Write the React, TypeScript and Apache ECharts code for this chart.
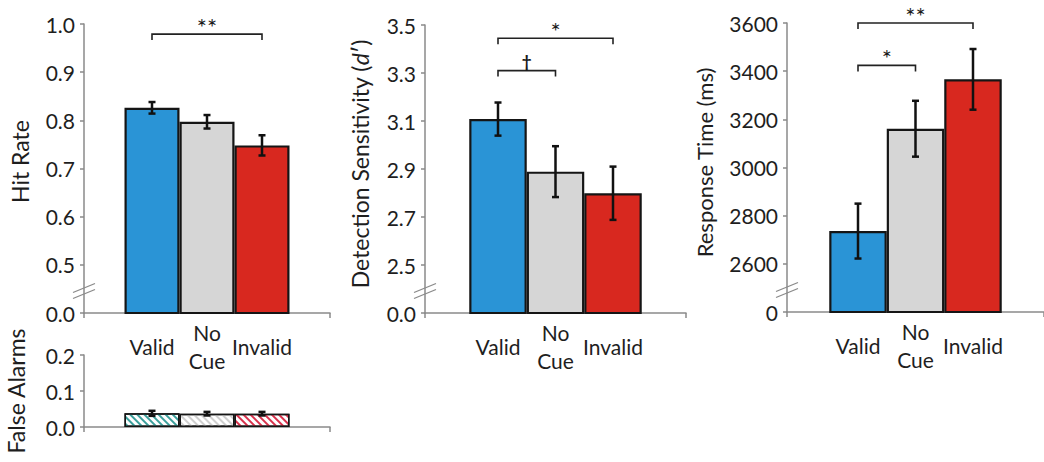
import React, { useEffect, useRef } from "react";
import * as echarts from "echarts";

// ---------- data ----------
const conditions = ["Valid", "No\nCue", "Invalid"];

const hitRate = [0.826, 0.797, 0.748];
const hitRateErr = [0.012, 0.014, 0.021];

const falseAlarms = [0.038, 0.037, 0.037];
const falseAlarmsErr = [0.007, 0.005, 0.005];

const dPrime = [3.108, 2.889, 2.799];
const dPrimeErr = [0.069, 0.106, 0.111];

const responseTime = [2736, 3161, 3366];
const responseTimeErr = [114, 116, 126];

// tick labels (lowest tick is the broken-axis zero)
const hitTicks = ["0.0", "0.5", "0.6", "0.7", "0.8", "0.9", "1.0"];
const faTicks = ["0.0", "0.1", "0.2"];
const dTicks = ["0.0", "2.5", "2.7", "2.9", "3.1", "3.3", "3.5"];
const rtTicks = ["0", "2600", "2800", "3000", "3200", "3400", "3600"];

// significance brackets: [fromIndex, toIndex, yValue]
const hitSig = [[0, 2, 0.979]];
const hitSigText = ["**"];
const dSig = [
  [0, 2, 3.445],
  [0, 1, 3.31],
];
const dSigText = ["*", "†"];
const rtSig = [
  [0, 2, 3600],
  [0, 1, 3424],
];
const rtSigText = ["**", "*"];

// ---------- styles ----------
const FONT = 'Lato, "Open Sans", "DejaVu Sans", sans-serif';
const AXIS_COLOR = "#8a8a8a";
const TEXT_COLOR = "#1e1e1e";
const barColors = ["#2a94d6", "#d6d6d6", "#d8281f"];
const hatchColors = ["#3a9f9b", "#cfcfcf", "#d9304b"];

type Panel = {
  left: number;
  width: number;
  top: number;
  height: number;
  min: number;
  max: number;
  interval: number;
  ticks: string[];
  values: number[];
  errs: number[];
  sig: number[][];
  sigText: string[];
  name: string;
  nameGap: number;
  nameSize: number;
  nameShift: number;
  barW: number;
  labels: boolean;
  hatch: boolean;
  breakMark: boolean;
};

const panels: Panel[] = [
  {
    left: 84, width: 246, top: 24, height: 289,
    min: 0.4, max: 1.0, interval: 0.1, ticks: hitTicks,
    values: hitRate, errs: hitRateErr, sig: hitSig, sigText: hitSigText,
    name: "Hit Rate", nameGap: 53, nameSize: 23, nameShift: 14,
    barW: 55, labels: true, hatch: false, breakMark: true,
  },
  {
    left: 84, width: 246, top: 355, height: 72,
    min: 0, max: 0.2, interval: 0.1, ticks: faTicks,
    values: falseAlarms, errs: falseAlarmsErr, sig: [], sigText: [],
    name: "False Alarms", nameGap: 57, nameSize: 23, nameShift: 0,
    barW: 55, labels: false, hatch: true, breakMark: false,
  },
  {
    left: 425, width: 261, top: 25, height: 288,
    min: 2.3, max: 3.5, interval: 0.2, ticks: dTicks,
    values: dPrime, errs: dPrimeErr, sig: dSig, sigText: dSigText,
    name: "Detection Sensitivity ({i|d}′)", nameGap: 54, nameSize: 23, nameShift: 10,
    barW: 57.5, labels: true, hatch: false, breakMark: true,
  },
  {
    left: 787, width: 257, top: 23, height: 289,
    min: 2400, max: 3600, interval: 200, ticks: rtTicks,
    values: responseTime, errs: responseTimeErr, sig: rtSig, sigText: rtSigText,
    name: "Response Time (ms)", nameGap: 72, nameSize: 22, nameShift: 10,
    barW: 57.5, labels: true, hatch: false, breakMark: true,
  },
];

function buildOption() {
  const grid: any[] = [];
  const xAxis: any[] = [];
  const yAxis: any[] = [];
  const series: any[] = [];
  const graphic: any[] = [];

  panels.forEach((p, pi) => {
    grid.push({ left: p.left, width: p.width, top: p.top, height: p.height, containLabel: false });
    xAxis.push({
      type: "category",
      gridIndex: pi,
      data: [""],
      axisLine: { lineStyle: { color: AXIS_COLOR, width: 1.5 } },
      axisTick: { show: true, length: 5, lineStyle: { color: AXIS_COLOR, width: 1.5 } },
      axisLabel: { show: false },
      splitLine: { show: false },
    });
    yAxis.push({
      type: "value",
      gridIndex: pi,
      min: p.min,
      max: p.max,
      interval: p.interval,
      name: p.name,
      nameLocation: "middle",
      nameGap: p.nameGap,
      nameTextStyle: {
        fontSize: p.nameSize,
        color: TEXT_COLOR,
        fontFamily: FONT,
        padding: [0, 0, 0, p.nameShift],
        rich: { i: { fontSize: p.nameSize, fontStyle: "italic", color: TEXT_COLOR, fontFamily: FONT } },
      },
      axisLine: { show: true, lineStyle: { color: AXIS_COLOR, width: 1.5 } },
      axisTick: { show: true, length: 4, lineStyle: { color: AXIS_COLOR, width: 1.5 } },
      axisLabel: {
        fontSize: 21,
        color: TEXT_COLOR,
        fontFamily: FONT,
        margin: 9,
        formatter: (_v: number, idx: number) => p.ticks[idx] ?? "",
      },
      splitLine: { show: false },
    });

    conditions.forEach((c, ci) => {
      const itemStyle: any = {
        color: p.hatch ? "#ffffff" : barColors[ci],
        borderColor: "#151515",
        borderWidth: p.hatch ? 1.5 : 2.2,
      };
      if (p.hatch) {
        itemStyle.decal = {
          symbol: "rect",
          symbolSize: 1,
          color: hatchColors[ci],
          backgroundColor: "#ffffff",
          dashArrayX: [1, 0],
          dashArrayY: [2, 3],
          rotation: Math.PI / 4,
        };
      }
      series.push({
        type: "bar",
        name: c,
        xAxisIndex: pi,
        yAxisIndex: pi,
        data: [p.values[ci]],
        barWidth: p.barW,
        barGap: "0%",
        itemStyle,
        label: p.labels
          ? {
              show: true,
              position: "bottom",
              distance: 32,
              align: "center",
              verticalAlign: "middle",
              lineHeight: 28,
              fontSize: 21,
              color: TEXT_COLOR,
              fontFamily: FONT,
              formatter: c,
            }
          : { show: false },
        emphasis: { disabled: true },
        silent: true,
      });
    });

    // error bars
    series.push({
      type: "custom",
      xAxisIndex: pi,
      yAxisIndex: pi,
      silent: true,
      z: 5,
      itemStyle: { color: "#111" },
      encode: { x: 0, y: 1 },
      data: p.values.map((v, i) => [0, v, p.errs[i], i]),
      renderItem: (_params: any, api: any) => {
        const v = api.value(1);
        const e = api.value(2);
        const i = api.value(3);
        const c = api.coord([0, v]);
        const x = c[0] + (i - 1) * p.barW;
        const yt = api.coord([0, v + e])[1];
        const yb = api.coord([0, v - e])[1];
        const cap = 3.5;
        const style = { stroke: "#111", lineWidth: 2.5 };
        return {
          type: "group",
          children: [
            { type: "line", shape: { x1: x, y1: yt, x2: x, y2: yb }, style },
            { type: "line", shape: { x1: x - cap, y1: yt, x2: x + cap, y2: yt }, style },
            { type: "line", shape: { x1: x - cap, y1: yb, x2: x + cap, y2: yb }, style },
          ],
        };
      },
    });

    // significance brackets
    if (p.sig.length) {
      series.push({
        type: "custom",
        xAxisIndex: pi,
        yAxisIndex: pi,
        silent: true,
        z: 6,
        itemStyle: { color: "#222" },
        encode: { x: 0, y: 1 },
        data: p.sig.map((s) => [0, s[2], s[0], s[1]]),
        renderItem: (params: any, api: any) => {
          const y = api.value(1);
          const a = api.value(2);
          const b = api.value(3);
          const c = api.coord([0, y]);
          const x1 = c[0] + (a - 1) * p.barW;
          const x2 = c[0] + (b - 1) * p.barW;
          const yp = c[1];
          const tick = 6;
          const txt = p.sigText[params.dataIndex];
          const isDagger = txt === "†";
          return {
            type: "group",
            children: [
              {
                type: "polyline",
                shape: { points: [[x1, yp + tick], [x1, yp], [x2, yp], [x2, yp + tick]] },
                style: { stroke: "#222", lineWidth: 1.6, fill: null },
              },
              {
                type: "text",
                x: (x1 + x2) / 2,
                y: isDagger ? yp - 1 : yp + 4,
                style: {
                  text: txt,
                  fontSize: isDagger ? 17 : 24,
                  fontWeight: isDagger ? "bold" : "normal",
                  fontFamily: FONT,
                  fill: "#1a1a1a",
                  align: "center",
                  verticalAlign: "bottom",
                },
              },
            ],
          };
        },
      });
    }

    // axis-break marks
    if (p.breakMark) {
      const ax = p.left;
      const by = p.top + p.height - 22;
      [-3, 3].forEach((d) => {
        graphic.push({
          type: "line",
          silent: true,
          shape: { x1: ax - 11, y1: by + d + 4.5, x2: ax + 11, y2: by + d - 4.5 },
          style: { stroke: AXIS_COLOR, lineWidth: 1.3 },
        });
      });
    }
  });

  return {
    animation: false,
    backgroundColor: "#ffffff",
    textStyle: { fontFamily: FONT },
    grid,
    xAxis,
    yAxis,
    series,
    graphic,
  };
}

export default function App() {
  const ref = useRef<HTMLDivElement>(null);
  useEffect(() => {
    if (!ref.current) return;
    const chart = echarts.init(ref.current, null, { renderer: "svg" });
    chart.setOption(buildOption());
    return () => chart.dispose();
  }, []);
  return (
    <div
      ref={ref}
      style={{ position: "absolute", left: 0, top: 0, width: 1044, height: 462 }}
    />
  );
}
